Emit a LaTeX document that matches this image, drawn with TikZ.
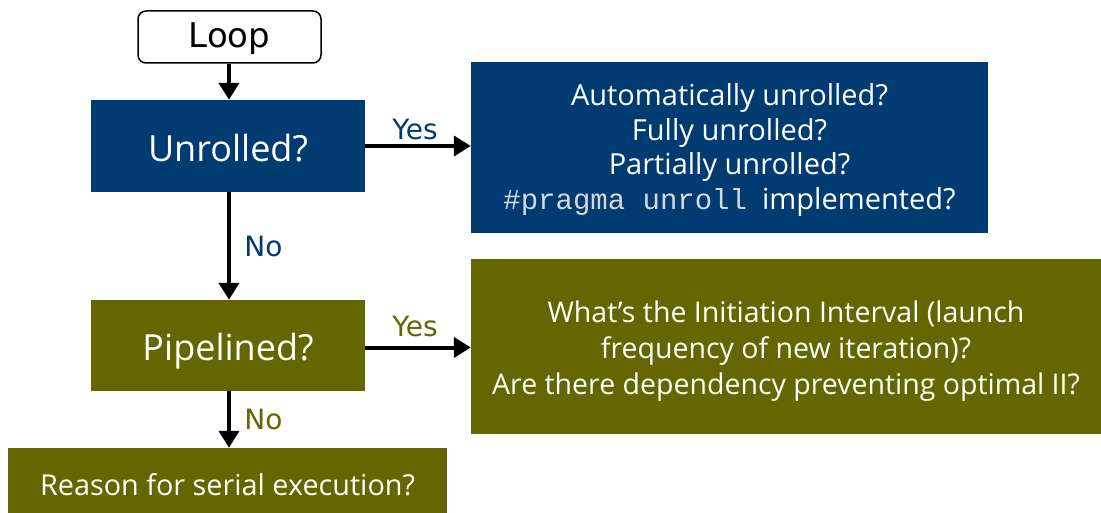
\documentclass[tikz,border=0pt]{standalone}
\usepackage{fontspec}
\setmainfont{Open Sans}
\setmonofont{Liberation Mono}
\newfontfamily\loopfont{DejaVu Sans}
\usepackage{tikz}
\usetikzlibrary{arrows.meta,calc}

\definecolor{intelblue}{RGB}{0,60,113}
\definecolor{intelolive}{RGB}{100,102,0}
\definecolor{codegray}{RGB}{215,215,215}

\tikzset{
  loopbox/.style={draw, line width=1.5pt, rounded corners=8pt, fill=white,
    font=\loopfont\fontsize{34}{38}\selectfont},
  bluebox/.style={fill=intelblue, text=white, inner sep=0pt},
  olivebox/.style={fill=intelolive, text=white, inner sep=0pt},
  flow/.style={line width=4pt, -{Triangle[length=17pt,width=20pt]}},
  answer/.style={font=\loopfont\fontsize{28}{32}\selectfont},
}
% move the text of a box down without changing the box
\newcommand{\sinktext}[2]{\raisebox{-#1}[\height][\depth]{#2}}

\begin{document}
\begin{tikzpicture}[x=1pt,y=-1pt]
  \useasboundingbox (0,0) rectangle (1101,513);

  % start of the loop
  \node[loopbox, minimum width=183pt, minimum height=52pt] (loop) at (229.5,37)
    {\sinktext{2pt}{Loop}};

  % unroll branch
  \node[bluebox, minimum width=274pt, minimum height=92pt,
        font=\fontsize{36}{40}\selectfont] (unrolled) at (228,146)
    {\sinktext{2pt}{Unrolled?}};
  \node[bluebox, minimum width=517pt, minimum height=171pt,
        font=\fontsize{29}{34.5}\selectfont] (unrollq) at (729.5,147.5)
    {\sinktext{3pt}{\begin{tabular}{@{}c@{}}
      Automatically unrolled?\\ Fully unrolled?\\ Partially unrolled?\\
      {\color{codegray}\ttfamily\#pragma unroll}\ \ implemented?
     \end{tabular}}};

  % pipeline branch
  \node[olivebox, minimum width=274pt, minimum height=91pt,
        font=\fontsize{36}{40}\selectfont] (pipelined) at (228,345.5)
    {\sinktext{6pt}{Pipelined?}};
  \node[olivebox, minimum width=630pt, minimum height=175pt,
        font=\fontsize{28.5}{36}\selectfont] (pipeq) at (786,346.5)
    {\sinktext{5pt}{\begin{tabular}{@{}c@{}}
      What's the Initiation Interval (launch\\ frequency of new iteration)?\\
      Are there dependency preventing optimal II?
     \end{tabular}}};

  \node[olivebox, minimum width=439pt, minimum height=66pt,
        font=\fontsize{28.8}{32}\selectfont] (serial) at (227.5,481)
    {\sinktext{4pt}{Reason for serial execution?}};

  % connectors
  \draw[flow] (loop.south -| 229,0) -- (unrolled.north -| 229,0);
  \draw[flow] (unrolled.east) -- (unrolled.east -| unrollq.west)
    node[midway, above=1pt, xshift=-3pt, text=intelblue, answer] {Yes};
  \draw[flow] (unrolled.south -| 229,0) -- (pipelined.north -| 229,0)
    node[midway, right=10pt, text=intelblue, answer] {No};
  \draw[flow] (pipelined.east) ++(0,2) -- ($(pipeq.west |- pipelined.east)+(0,2)$)
    node[midway, above=5pt, xshift=-3pt, text=intelolive, answer] {Yes};
  \draw[flow] (pipelined.south -| 229,0) -- (serial.north -| 229,0)
    node[midway, right=10pt, text=intelolive, answer] {No};
\end{tikzpicture}
\end{document}
